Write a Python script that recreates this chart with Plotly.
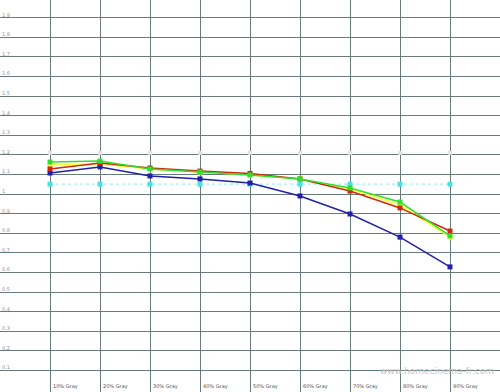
import plotly.graph_objects as go

categories = ["10% Gray", "20% Gray", "30% Gray", "40% Gray", "50% Gray",
              "60% Gray", "70% Gray", "80% Gray", "90% Gray"]
white_vals = [1.21, 1.21, 1.21, 1.21, 1.21, 1.21, 1.21, 1.21, 1.21]
cyan_vals = [1.05, 1.05, 1.05, 1.05, 1.05, 1.05, 1.05, 1.05, 1.05]
yellow_vals = [1.148, 1.153, 1.128, 1.112, 1.097, 1.077, 1.026, 0.944, 0.78]
blue_vals = [1.107, 1.138, 1.092, 1.077, 1.056, 0.99, 0.898, 0.78, 0.628]
red_vals = [1.128, 1.158, 1.133, 1.117, 1.105, 1.077, 1.015, 0.929, 0.811]
green_vals = [1.163, 1.168, 1.128, 1.112, 1.097, 1.077, 1.031, 0.959, 0.786]
y_ticks = [0.1, 0.2, 0.3, 0.4, 0.5, 0.6, 0.7, 0.8, 0.9, 1.0,
           1.1, 1.2, 1.3, 1.4, 1.5, 1.6, 1.7, 1.8, 1.9]
y_labels = ["0.1", "0.2", "0.3", "0.4", "0.5", "0.6", "0.7", "0.8", "0.9", "1",
            "1.1", "1.2", "1.3", "1.4", "1.5", "1.6", "1.7", "1.8", "1.9"]
watermark = "www.homecinema-fr.com"

xpos = list(range(1, len(categories) + 1))
fig = go.Figure()

def add(vals, color, dash="solid", lcolor=None, width=1.5, size=5):
    fig.add_trace(go.Scatter(
        x=xpos, y=vals, mode="lines+markers",
        line=dict(color=lcolor or color, width=width, dash=dash),
        marker=dict(color=color, size=size, symbol="square"),
        showlegend=False, hoverinfo="skip"))

add(white_vals, "#e4e4e4", lcolor="#f6f6f6", width=1, size=4)
add(cyan_vals, "#4ee0e0", dash="dot", lcolor="#a8f0f0", width=1.2)
add(yellow_vals, "#ffff30")
add(blue_vals, "#2020a8")
add(red_vals, "#d02810")
add(green_vals, "#30e030")

grid_color = "#687a7a"
fig.update_xaxes(range=[0, 10], tickmode="array", tickvals=[0] + xpos,
                 showticklabels=False, showgrid=True, gridcolor=grid_color,
                 gridwidth=1.2, zeroline=False, showline=False)
fig.update_yaxes(range=[-0.0102, 1.9898], tickmode="array", tickvals=y_ticks,
                 showticklabels=False, showgrid=True, gridcolor=grid_color,
                 gridwidth=1.2, zeroline=False, showline=False)

annotations = []
for v, t in zip(y_ticks, y_labels):
    annotations.append(dict(x=0, y=v, xref="paper", yref="y", text=t,
                            showarrow=False, xanchor="left", yanchor="bottom",
                            xshift=0, yshift=-2,
                            font=dict(family="DejaVu Sans", size=5, color="#909090")))
for xp, c in zip(xpos, categories):
    annotations.append(dict(x=xp, y=0, xref="x", yref="paper", text=c,
                            showarrow=False, xanchor="left", yanchor="bottom",
                            xshift=1, yshift=0,
                            font=dict(family="DejaVu Sans", size=5, color="#505050")))
annotations.append(dict(x=1, y=1 - 371 / 392, xref="paper", yref="paper", text=watermark,
                        showarrow=False, xanchor="right", yanchor="middle", xshift=-4,
                        font=dict(family="DejaVu Sans", size=9, color="#c4c4c4")))

fig.update_layout(width=500, height=392, margin=dict(l=0, r=0, t=0, b=0),
                  paper_bgcolor="white", plot_bgcolor="white",
                  annotations=annotations)
fig.write_html("out.html")
